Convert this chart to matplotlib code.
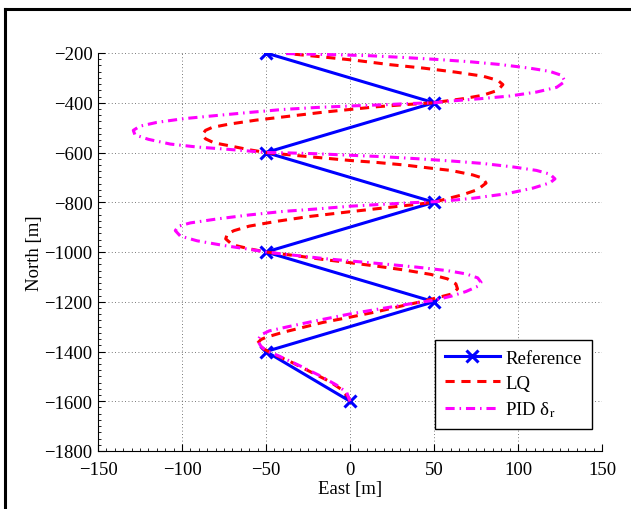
import numpy as np
import matplotlib
matplotlib.use("Agg")
import matplotlib.pyplot as plt
from matplotlib.ticker import MultipleLocator
from matplotlib.lines import Line2D

plt.rcParams['font.family'] = ['Liberation Serif', 'DejaVu Serif']
plt.rcParams['mathtext.fontset'] = 'stix'
plt.rcParams['font.size'] = 13.5

# waypoints
ref_east = [0, -50, 50, -50, 50, -50, 50, -50]
ref_north = [-1600, -1400, -1200, -1000, -800, -600, -400, -200]

# LQ trajectory
lq_east = [0, -1, -5, -12, -24, -36, -46, -52, -55, -53, -50, -40, -28, -16, 0, 16, 32, 43,
           53, 61, 64, 63, 58, 48, 32, 16, 0, -16, -32, -44, -50,
           -60, -70, -74, -73, -69, -60, -44, -24, 0, 24, 40, 50,
           56, 67, 76, 81, 79, 73, 60, 48, 32, 16, 0, -16, -32, -44, -50,
           -60, -71, -81, -86, -88, -86, -82, -72, -56, -36, -16, 0, 16, 32, 50,
           55, 67, 79, 88, 91, 88, 79, 63, 44, 24, 4, -16, -36]
lq_north = [-1600, -1584, -1553, -1521, -1480, -1439, -1410, -1387, -1366, -1352, -1343, -1323, -1303, -1283, -1262, -1240, -1215, -1199,
            -1182, -1168, -1148, -1128, -1108, -1090, -1072, -1057, -1043, -1030, -1015, -1005, -1000,
            -987, -971, -947, -927, -914, -896, -877, -857, -838, -820, -808, -800,
            -789, -770, -749, -723, -703, -690, -672, -663, -650, -640, -632, -622, -612, -604, -600,
            -589, -574, -561, -545, -529, -511, -499, -486, -470, -454, -438, -427, -416, -408, -400,
            -395, -384, -370, -350, -327, -310, -293, -277, -261, -247, -230, -216, -203]

# PID delta_r trajectory
pid_east = [0, -2, -8, -18, -30, -42, -50, -53, -55, -53, -48, -36, -20, 0, 20, 38, 50,
            60, 69, 76, 78, 76, 69, 58, 40, 20, 0, -16, -32, -44, -50,
            -62, -75, -91, -101, -104, -102, -95, -79, -60, -40, -20, 0, 20, 36, 50,
            58, 73, 93, 109, 119, 122, 119, 111, 97, 79, 60, 40, 20, 0, -20, -40, -50,
            -62, -75, -91, -107, -120, -128, -129, -125, -115, -99, -79, -60, -40, -20, 0, 20, 36, 50,
            60, 77, 95, 111, 123, 128, 126, 119, 107, 89, 71, 52, 32, 12, -8, -28, -40]
pid_north = [-1600, -1564, -1535, -1497, -1457, -1419, -1396, -1379, -1356, -1333, -1317, -1299, -1276, -1249, -1226, -1206, -1194,
             -1178, -1159, -1138, -1122, -1104, -1088, -1075, -1061, -1048, -1036, -1026, -1014, -1005, -1000,
             -987, -974, -955, -936, -914, -896, -883, -867, -851, -837, -827, -816, -808, -802, -798,
             -794, -784, -766, -743, -722, -706, -687, -672, -658, -644, -634, -625, -617, -611, -605, -601, -600,
             -593, -586, -578, -566, -547, -529, -511, -494, -479, -464, -451, -439, -427, -419, -413, -408, -403, -400,
             -393, -384, -373, -357, -338, -314, -290, -274, -261, -246, -235, -226, -218, -211, -207, -204, -202]

fig = plt.figure(figsize=(6.31, 5.10), dpi=100)
ax = fig.add_axes([98/631, 1 - 452/510, 504/631, 398/510])

ax.plot(ref_east, ref_north, color='b', lw=2.2, marker='x', ms=9, mew=2.2, label='Reference', zorder=3)
ax.plot(lq_east, lq_north, color='r', lw=2.2, dashes=(3, 2.2), label='LQ', zorder=4)
ax.plot(pid_east, pid_north, color='magenta', lw=2.2, dashes=(3, 1.6, 0.5, 1.6),
        label=r'PID δ$_{\mathrm{r}}$', zorder=5)

ax.set_xlim(-150, 150)
ax.set_ylim(-1800, -200)
ax.xaxis.set_major_locator(MultipleLocator(50))
ax.yaxis.set_major_locator(MultipleLocator(200))
ax.xaxis.set_minor_locator(MultipleLocator(5))
ax.yaxis.set_minor_locator(MultipleLocator(25))
ax.tick_params(which='both', direction='in', top=False, right=False)
ax.tick_params(which='major', length=5, width=0.8)
ax.tick_params(axis='y', which='major', pad=4)
ax.tick_params(axis='x', which='major', pad=7)
ax.tick_params(which='minor', length=2.5, width=0.6)
ax.grid(True, which='major', linestyle=(0, (1, 3)), lw=0.6, color='0.3')
ax.spines['top'].set_visible(False)
ax.spines['right'].set_visible(False)

ax.set_xlabel('East [m]', labelpad=2)
ax.set_ylabel('North [m]', labelpad=1)

leg = ax.legend(loc='lower right', bbox_to_anchor=(0.98, 0.055), borderaxespad=0,
                fancybox=False, edgecolor='k', framealpha=1, handlelength=2.9,
                borderpad=0.55, labelspacing=0.4, handletextpad=0.3)
leg.get_frame().set_linewidth(1.0)

# black figure border on top and left
fig.add_artist(Line2D([5/631, 1], [1 - 9.5/510, 1 - 9.5/510], color='k', lw=2.2, transform=fig.transFigure))
fig.add_artist(Line2D([5/631, 5/631], [0, 1 - 9.5/510], color='k', lw=2.2, transform=fig.transFigure))

fig.savefig('out.png', dpi=100)
